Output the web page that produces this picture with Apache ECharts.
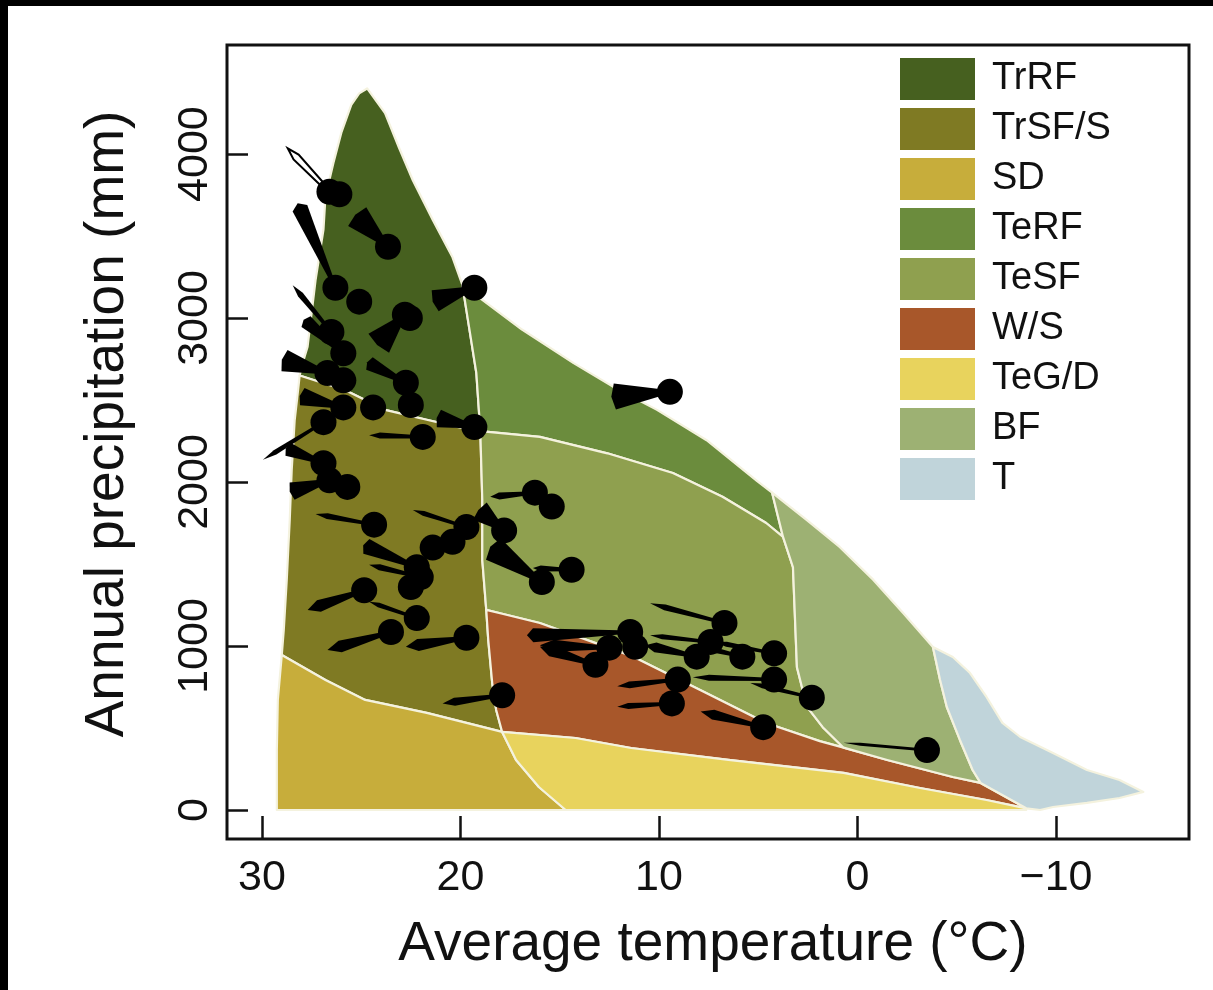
<!DOCTYPE html>
<html><head><meta charset="utf-8">
<script src="https://cdn.jsdelivr.net/npm/echarts@6/dist/echarts.min.js"></script>
<style>html,body{margin:0;padding:0;background:#fff}#c{width:1213px;height:990px}</style>
</head><body><div id="c"></div>
<script>
// ---- Data (temperature °C, precipitation mm) ----
const biomeNames = ['TrRF','TrSF/S','SD','TeRF','TeSF','W/S','TeG/D','BF','T'];

const trrf = [[24.7,4400],[23.8,4250],[23.1,4040],[22.4,3840],[21.4,3600],[20.4,3370],[19.9,3200],[19.6,2970],[19.2,2665],[19.0,2310],[20.1,2335],[21.7,2380],[23.8,2440],[25.8,2560],[28.1,2650],[27.9,2745],[27.7,2825],[27.3,3230],[26.9,3540],[26.8,3740],[26.4,3945],[26.0,4130],[25.5,4300],[25.1,4370]];
const trsf = [[28.1,2650],[25.8,2560],[23.8,2440],[21.7,2380],[20.1,2335],[19.0,2310],[18.9,1890],[18.9,1525],[18.7,1220],[18.6,1037],[18.4,774],[18.2,610],[17.9,476],[21.7,592],[24.8,671],[26.8,793],[29.0,945],[28.9,1098],[28.75,1403],[28.6,1768],[28.5,2073],[28.35,2378],[28.15,2592]];
const sd = [[29.0,945],[26.8,793],[24.8,671],[21.7,592],[17.9,476],[17.2,305],[16.05,140],[14.7,0],[29.25,0],[29.25,366],[29.2,671]];
const terf = [[19.9,3200],[18.9,3110],[16.9,2930],[14.3,2725],[12.3,2580],[10.1,2440],[7.6,2255],[5.1,2010],[4.3,1935],[3.75,1665],[4.6,1750],[6.8,1910],[9.3,2055],[12.6,2175],[16.0,2275],[19.0,2310],[19.2,2665],[19.6,2970]];
const tesf = [[19.0,2310],[16.0,2275],[12.6,2175],[9.3,2055],[6.8,1910],[4.6,1750],[3.75,1665],[3.25,1480],[3.15,1175],[3.05,870],[2.55,630],[1.75,505],[0.7,380],[1.9,420],[4.6,530],[7.9,730],[11.3,935],[16.0,1140],[18.0,1200],[18.7,1220],[18.9,1525],[18.9,1890]];
const ws = [[18.7,1220],[18.0,1200],[16.0,1140],[11.3,935],[7.9,730],[4.6,530],[1.9,420],[0.7,380],[-1.5,305],[-4.8,201],[-6.2,165],[-8.5,10],[-6.5,61],[-3.15,134],[0.7,226],[6.5,305],[11.4,378],[14.2,439],[17.9,476],[18.2,610],[18.4,774],[18.6,1037]];
const tegd = [[17.9,476],[14.2,439],[11.4,378],[6.5,305],[0.7,226],[-3.15,134],[-6.5,61],[-8.5,10],[-8.5,0],[14.7,0],[16.05,140],[17.2,305]];
const bf = [[4.3,1935],[2.55,1768],[0.9,1604],[-0.8,1403],[-2.3,1201],[-3.8,994],[-4.16,793],[-4.5,628],[-5.16,427],[-5.8,244],[-6.2,165],[-4.8,201],[-1.5,305],[0.7,380],[1.75,505],[2.55,630],[3.05,870],[3.15,1175],[3.25,1480],[3.75,1665]];
const tundra = [[-3.8,994],[-4.8,933],[-5.67,835],[-6.5,689],[-7.3,531],[-8.2,445],[-9.85,348],[-11.56,244],[-13.2,183],[-14.4,110],[-13.2,73],[-11.56,43],[-9.85,18],[-9.2,0],[-8.5,10],[-6.2,165],[-5.8,244],[-5.16,427],[-4.5,628],[-4.16,793]];

// sites: [temp, precip, tailTemp, tailPrecip] (tail end = null if none)
const sites = [
 [26.6,3770,28.7,4035],[26.1,3755,null,null],[23.65,3435,25.3,3630],[26.3,3185,28.2,3700],
 [25.1,3100,null,null],[22.8,3020,24.2,2835],[22.55,3000,null,null],[26.5,2915,28.45,3200],
 [25.9,2785,27.9,2990],[26.7,2665,29.0,2745],[25.9,2620,null,null],[22.75,2605,24.7,2730],
 [22.5,2470,null,null],[24.4,2455,null,null],[25.9,2455,28.1,2525],[19.3,2335,21.2,2390],
 [21.9,2275,24.6,2285],[26.9,2365,29.95,2135],[26.9,2115,28.8,2205],[26.6,2010,28.6,1940],
 [25.7,1970,null,null],[24.35,1740,27.3,1805],[19.7,1725,22.4,1830],[20.4,1635,null,null],
 [21.4,1600,null,null],[17.8,1705,19.1,1830],[22.2,1480,24.9,1615],[22.0,1420,24.6,1495],
 [22.5,1360,null,null],[24.85,1340,27.7,1220],[22.2,1170,24.6,1270],[23.5,1085,26.7,975],
 [19.7,1050,22.75,995],[17.9,700,20.9,650],[19.3,3185,21.4,3100],[9.45,2550,12.4,2520],
 [16.25,1935,18.5,1910],[15.4,1850,null,null],[15.9,1390,18.5,1605],[14.4,1465,16.35,1475],
 [6.7,1140,10.45,1260],[11.45,1085,16.65,1065],[12.5,990,16.0,1005],[11.2,995,null,null],
 [13.2,885,16.0,995],[7.4,1025,10.45,1065],[8.1,935,10.7,1005],[5.8,935,7.9,995],
 [4.2,955,7.2,1025],[9.05,795,12.1,755],[4.2,795,8.3,810],[2.3,685,5.4,775],
 [9.35,650,12.1,630],[4.75,505,7.9,600],[-3.5,365,0.7,410]
];
// tail spread (px) per site, aligned with sites
const tailWidth = [7,0,26,16,0,28,0,6,14,22,0,14,0,0,18,18,6,5,14,18,0,6,5,0,0,22,16,6,0,12,5,12,12,8,22,26,7,0,26,6,6,14,12,0,12,5,10,6,5,7,6,5,6,10,3];
const hollowTails = [0];

const xTicks = [30,20,10,0,-10];
const yTicks = [0,1000,2000,3000,4000];

// ---- Styling ----
const colors = ['#46601f','#7f7a23','#c7ad3b','#6b8c3d','#8fa04f','#a8572a','#e8d35d','#9db173','#c0d4da'];
const polys = [trrf,trsf,sd,terf,tesf,ws,tegd,bf,tundra];
const FONT = '"Liberation Sans", Arial, Helvetica, sans-serif';

const chart = echarts.init(document.getElementById('c'), null, {renderer:'canvas'});

const series = polys.map((pts, i) => ({
  type: 'custom', name: biomeNames[i], data: pts, z: 2, silent: true,
  itemStyle: {color: colors[i]},
  renderItem: (params, api) => {
    if (params.dataIndex !== 0) return null;
    return {type:'polygon', shape:{points: pts.map(p => api.coord(p)), smooth: 0},
      style:{fill: colors[i], stroke:'#f4f2de', lineWidth: 2.2, lineJoin:'round'}};
  }
}));

const tailData = [], tailW = [], tailHollow = [];
sites.forEach((s, i) => {
  if (s[2] !== null) { tailData.push([s[0], s[1], s[2], s[3]]); tailW.push(tailWidth[i]); tailHollow.push(hollowTails.includes(i)); }
});

series.push({
  type:'custom', name:'tails', data: tailData, z: 3, silent: true,
  encode: {x:[0,2], y:[1,3]},
  renderItem: (params, api) => {
    const a = api.coord([api.value(0), api.value(1)]);
    const b = api.coord([api.value(2), api.value(3)]);
    const w = tailW[params.dataIndex];
    const dx = b[0]-a[0], dy = b[1]-a[1], L = Math.hypot(dx, dy) || 1;
    const nx = -dy/L, ny = dx/L;
    const f = w >= 14 ? 0.94 : 0.8;
    const m = [a[0]+dx*f, a[1]+dy*f];
    const pts = [[a[0]+nx*1.5,a[1]+ny*1.5],[m[0]+nx*w/2,m[1]+ny*w/2],b,[m[0]-nx*w/2,m[1]-ny*w/2],[a[0]-nx*1.5,a[1]-ny*1.5]];
    const hollow = tailHollow[params.dataIndex];
    return {type:'polygon', shape:{points: pts},
      style: hollow ? {fill:'#fff', stroke:'#000', lineWidth:2} : {fill:'#000'}};
  }
});

series.push({
  type:'scatter', name:'sites', data: sites.map(s => [s[0], s[1]]), z: 4, silent: true,
  symbol:'circle', symbolSize: 26, itemStyle:{color:'#000', opacity: 1}
});

const fmt = v => v < 0 ? '\u2212' + Math.abs(v) : String(v);

chart.setOption({
  animation: false,
  backgroundColor: '#fff',
  grid: {left: 227, top: 45, right: 24, bottom: 151, show: true, borderColor: '#111', borderWidth: 3, backgroundColor: 'rgba(0,0,0,0)'},
  xAxis: {
    type:'value', inverse: true, min: -16.7, max: 31.76,
    axisLine:{show:false, onZero:false}, splitLine:{show:false},
    axisTick:{show:true, inside:true, length:23, customValues: xTicks, lineStyle:{color:'#111', width:2.5}},
    axisLabel:{customValues: xTicks, formatter: fmt, fontSize: 43, margin: 18, color:'#111', fontFamily: FONT}
  },
  yAxis: {
    type:'value', min: -177, max: 4665,
    axisLine:{show:false, onZero:false}, splitLine:{show:false},
    axisTick:{show:true, inside:true, length:21, customValues: yTicks, lineStyle:{color:'#111', width:2.5}},
    axisLabel:{customValues: yTicks, formatter: v => String(v), rotate: 90, fontSize: 43, margin: 10, color:'#111', fontFamily: FONT}
  },
  legend: {
    data: biomeNames, orient:'vertical', left: 895, top: 53, icon:'rect',
    itemWidth: 75, itemHeight: 42, itemGap: 8, selectedMode: false,
    textStyle:{fontSize: 38, lineHeight: 42, color:'#111', fontFamily: FONT, padding:[0,0,0,12]}
  },
  graphic: [
    {type:'rect', shape:{x:0, y:0, width:1213, height:6}, style:{fill:'#000'}, z: 100},
    {type:'rect', shape:{x:0, y:0, width:8, height:990}, style:{fill:'#000'}, z: 100},
    {type:'text', x: 713, y: 945, style:{text:'Average temperature (°C)', fontSize: 55, fontFamily: FONT, fill:'#111', textAlign:'center', textVerticalAlign:'middle'}},
    {type:'text', x: 108, y: 424, rotation: Math.PI/2, style:{text:'Annual precipitation (mm)', fontSize: 55, fontFamily: FONT, fill:'#111', textAlign:'center', textVerticalAlign:'middle'}}
  ],
  series
});
</script></body></html>
